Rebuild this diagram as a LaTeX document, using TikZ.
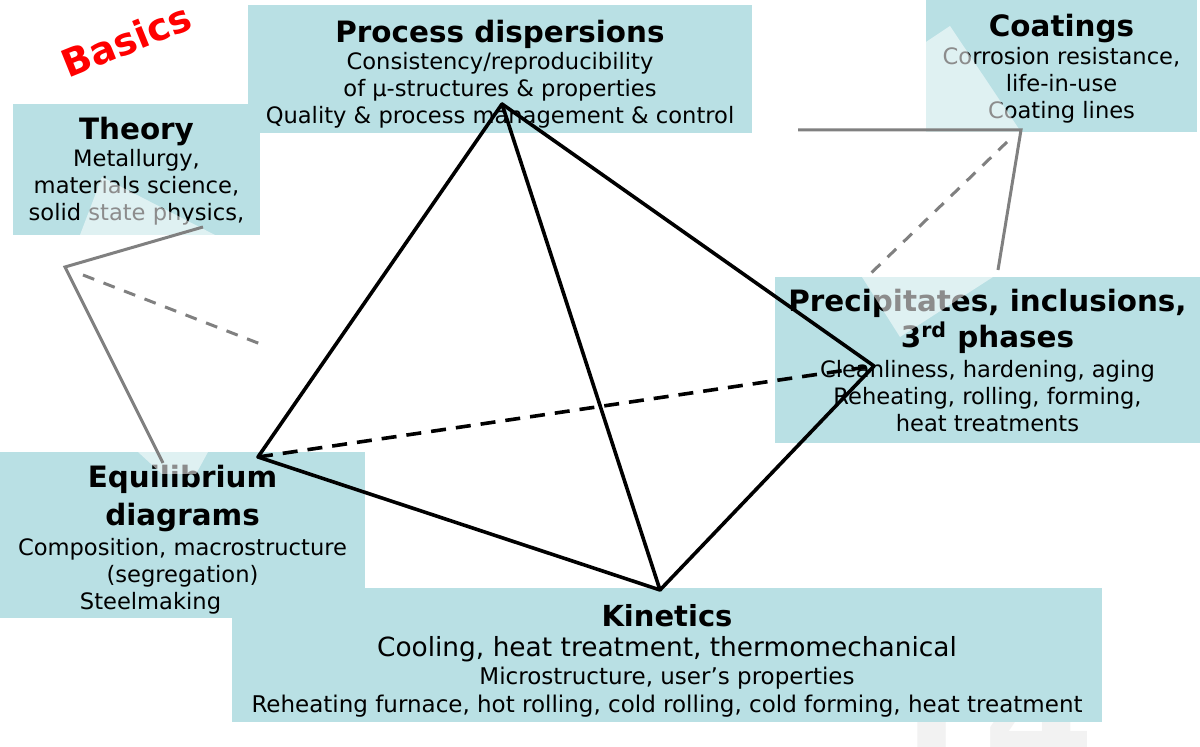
\documentclass[tikz,border=0pt]{standalone}
\usepackage{fontspec}
\setmainfont{DejaVu Sans}
\usepackage{tikz}
\definecolor{boxteal}{RGB}{185,224,228}
\definecolor{ghostgray}{RGB}{128,128,128}
\newcommand{\hd}[1]{{\fontsize{14.7}{17}\selectfont\bfseries #1}}

\begin{document}
\begin{tikzpicture}[x=0.5pt,y=-0.5pt]
            \tikzstyle{every node}+=[inner sep=0pt]
            \tikzstyle{box}=[fill=boxteal]
            \tikzstyle{txt}=[align=center,anchor=north,font=\fontsize{11.3}{13.5}\selectfont]
            \tikzstyle{glare}=[fill=white,fill opacity=0.55]
            \tikzstyle{ghost}=[ghostgray,line width=1.5pt]
            \tikzstyle{edge}=[black,line width=1.8pt,line join=round]
            \clip (0,0) rectangle (1200,747);
            \node [text=gray!10,font=\fontsize{80}{80}\selectfont\bfseries,anchor=base west] (pageno) at (872,775) {14};
            \node [box,minimum width=123.5pt,minimum height=65.5pt] (theory) at (136.5,169.5) {};
            \node [box,minimum width=252pt,minimum height=64pt] (proc) at (500,69) {};
            \node [box,minimum width=135.5pt,minimum height=66pt] (coat) at (1061.5,66) {};
            \node [box,minimum width=212.5pt,minimum height=83pt] (prec) at (987.5,360) {};
            \node [box,minimum width=182.5pt,minimum height=83pt] (equi) at (182.5,535) {};
            \node [box,minimum width=435pt,minimum height=67pt] (kin) at (667,655) {};
            \node [txt] (theorytext) at (136.5,117) {\hd{Theory}\\Metallurgy,\\materials science,\\solid state physics,};
            \node [txt] (proctext) at (500,20) {\hd{Process dispersions}\\Consistency/reproducibility\\of µ-structures \& properties\\Quality \& process management \& control};
            \node [txt] (coattext) at (1061.5,14) {\hd{Coatings}\\[0.5pt]Corrosion resistance,\\life-in-use\\Coating lines};
            \node [txt] (prectext) at (987.5,289) {\hd{Precipitates, inclusions,}\\[1pt]\hd{3\textsuperscript{rd} phases}\\[1.5pt]Cleanliness, hardening, aging\\Reheating, rolling, forming,\\heat treatments};
            \node [txt] (equitext) at (182.5,465) {\hd{Equilibrium}\\[3.5pt]\hd{diagrams}\\[1.5pt]Composition, macrostructure\\(segregation)\\Steelmaking\hspace*{32pt}};
            \node [txt,font=\fontsize{11.5}{13.5}\selectfont] (kintext) at (667,604) {{\fontsize{14.5}{17}\selectfont\bfseries Kinetics}\\[1.5pt]{\fontsize{13.2}{15}\selectfont Cooling, heat treatment, thermomechanical}\\[0.5pt]Microstructure, user's properties\\[0.5pt]Reheating furnace, hot rolling, cold rolling, cold forming, heat treatment};
            \fill [glare] (80,235) -- (102,177) -- (215,235) -- cycle;
            \fill [glare] (138,452) -- (208,452) -- (196,474) -- (162,474) -- cycle;
            \fill [glare] (926,42) -- (950,26) -- (1021,132) -- (926,132) -- cycle;
            \fill [glare] (862,277) -- (993,277) -- (900,337) -- cycle;
            \coordinate (ta) at (65,267);
            \coordinate (tb) at (203,227);
            \coordinate (tc) at (163,463);
            \coordinate (td) at (83,275);
            \coordinate (te) at (263,345);
            \coordinate (ca) at (798,130);
            \coordinate (cb) at (1021,130);
            \coordinate (cc) at (998,270);
            \coordinate (cd) at (1007,142);
            \coordinate (ce) at (867,277);
            \draw [ghost] (tb) -- (ta) -- (tc);
            \draw [ghost,dash pattern=on 6pt off 5pt] (td) -- (te);
            \draw [ghost] (ca) -- (cb) -- (cc);
            \draw [ghost,dash pattern=on 6pt off 5pt] (cd) -- (ce);
            \coordinate (apex) at (502,104);
            \coordinate (lv) at (258,457);
            \coordinate (bv) at (660,590);
            \coordinate (rv) at (874,366);
            \draw [edge] (lv) -- (apex) -- (bv) -- cycle;
            \draw [edge] (apex) -- (rv) -- (bv);
            \draw [edge,dash pattern=on 7.5pt off 5pt] (lv) -- (rv);
            \node [rotate=22,text=red,font=\fontsize{19}{19}\selectfont\bfseries] (basics) at (126,40) {Basics};
\end{tikzpicture}
\end{document}
